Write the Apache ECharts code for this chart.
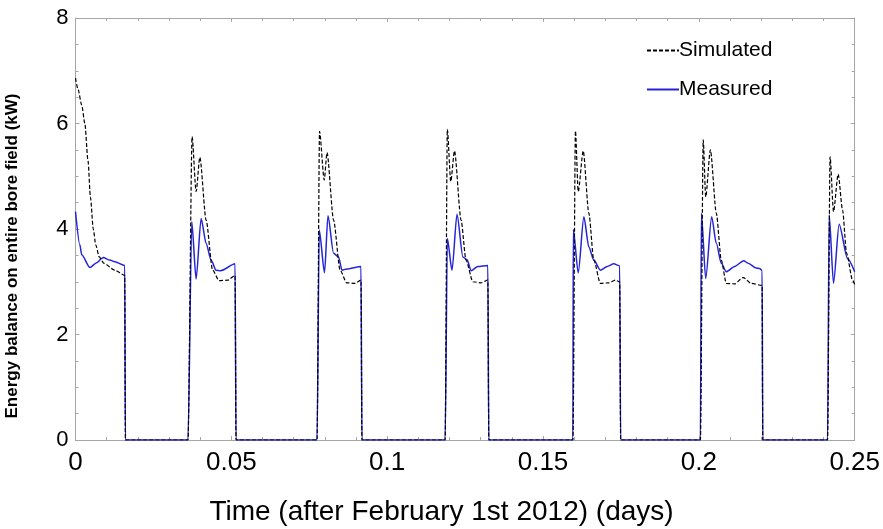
<!DOCTYPE html>
<html>
<head>
<meta charset="utf-8">
<script src="https://cdn.jsdelivr.net/npm/echarts@6/dist/echarts.min.js"></script>
<style>
  html, body { margin: 0; padding: 0; background: #fff; }
  #chart { width: 883px; height: 529px; }
</style>
</head>
<body>
<div id="chart"></div>
<script>
// time in days, values in kW
const simTime = [
  0, 0.0008, 0.002, 0.003, 0.004, 0.0048, 0.0057, 0.0065, 0.0076, 0.0091, 0.0126, 0.0158, 0.016,
  0.0361, 0.0374, 0.0387, 0.0399, 0.0419, 0.0440, 0.0461, 0.0488, 0.0512, 0.0515,
  0.0775, 0.0783, 0.0798, 0.0807, 0.0828, 0.0849, 0.0870, 0.0897, 0.0916, 0.0919,
  0.1186, 0.1193, 0.1204, 0.1216, 0.1237, 0.1253, 0.1275, 0.1301, 0.1323, 0.1326,
  0.1596, 0.1604, 0.1613, 0.1629, 0.1647, 0.1663, 0.1684, 0.1711, 0.1732, 0.1746, 0.1749,
  0.2005, 0.2014, 0.2022, 0.2037, 0.2056, 0.2072, 0.2088, 0.2115, 0.2142, 0.2168, 0.2203, 0.2205,
  0.2413, 0.2421, 0.2432, 0.2447, 0.2461, 0.2474, 0.2493, 0.25
];
const simValues = [
  6.86, 6.65, 6.35, 6.0, 5.3, 4.6, 4.0, 3.7, 3.47, 3.35, 3.22, 3.12, 0,
  0, 5.75, 4.71, 5.36, 4.17, 3.22, 3.02, 3.03, 3.12, 0,
  0, 5.85, 4.93, 5.45, 4.17, 3.22, 2.98, 2.97, 3.03, 0,
  0, 5.89, 4.90, 5.48, 4.17, 3.41, 3.0, 2.98, 3.03, 0,
  0, 5.86, 4.71, 5.48, 4.30, 3.41, 2.97, 2.98, 3.03, 3.0, 0,
  0, 5.69, 4.61, 5.50, 4.30, 3.41, 2.97, 2.96, 3.08, 2.97, 2.93, 0,
  0, 5.37, 4.33, 5.04, 4.36, 3.54, 3.03, 2.95
];

const measTime = [
  0, 0.0014, 0.002, 0.0046, 0.0068, 0.0084, 0.0089, 0.011, 0.0126, 0.0158, 0.016,
  0.0361, 0.0373, 0.0387, 0.0403, 0.0419, 0.0435, 0.0451, 0.0466, 0.0512, 0.0515,
  0.0775, 0.0782, 0.0799, 0.0810, 0.0828, 0.0844, 0.0855, 0.0870, 0.0916, 0.0919,
  0.1186, 0.1193, 0.1208, 0.1224, 0.1243, 0.1257, 0.1269, 0.1291, 0.1323, 0.1326,
  0.1596, 0.1597, 0.1613, 0.1631, 0.1647, 0.1663, 0.1684, 0.1706, 0.1727, 0.1746, 0.1749,
  0.2005, 0.2008, 0.2022, 0.2041, 0.2056, 0.2072, 0.2088, 0.2115, 0.2144, 0.2158, 0.2184, 0.2195, 0.2203, 0.2205,
  0.2413, 0.2418, 0.2432, 0.2450, 0.2477, 0.25
];
const measValues = [
  4.33, 3.7, 3.51, 3.27, 3.36, 3.44, 3.46, 3.41, 3.38, 3.31, 0,
  0, 4.14, 3.05, 4.20, 3.73, 3.41, 3.22, 3.21, 3.34, 0,
  0, 3.98, 3.17, 4.25, 3.54, 3.47, 3.22, 3.24, 3.29, 0,
  0, 3.82, 3.22, 4.28, 3.47, 3.41, 3.21, 3.29, 3.31, 0,
  0, 3.99, 3.17, 4.23, 3.66, 3.41, 3.22, 3.29, 3.34, 3.30, 0,
  0, 4.30, 3.06, 4.23, 3.73, 3.35, 3.19, 3.29, 3.40, 3.35, 3.26, 3.25, 3.21, 0,
  0, 4.27, 2.97, 4.09, 3.44, 3.19
];

const xTicks = [0, 0.05, 0.1, 0.15, 0.2, 0.25];
const yTicks = [0, 2, 4, 6, 8];

const simData = simTime.map((t, i) => [t, simValues[i]]);
const measData = measTime.map((t, i) => [t, measValues[i]]);

const axisGrey = '#a6a6a6';
const narrow = '"Liberation Sans Narrow", "Liberation Sans", Arial, sans-serif';

const baseX = {
  type: 'value',
  min: xTicks[0], max: xTicks[xTicks.length - 1], interval: 0.05,
  axisLine: { show: true, onZero: false, lineStyle: { color: axisGrey } },
  axisTick: { show: true, inside: true, length: 4, lineStyle: { color: axisGrey } },
  minorTick: { show: true, splitNumber: 5, length: 3, lineStyle: { color: axisGrey } },
  splitLine: { show: false }
};
const baseY = {
  type: 'value',
  min: yTicks[0], max: yTicks[yTicks.length - 1], interval: 2,
  axisLine: { show: true, onZero: false, lineStyle: { color: axisGrey } },
  axisTick: { show: true, inside: true, length: 4, lineStyle: { color: axisGrey } },
  minorTick: { show: true, splitNumber: 4, length: 3, lineStyle: { color: axisGrey } },
  splitLine: { show: false }
};

const option = {
  backgroundColor: '#fff',
  animation: false,
  grid: { left: 75.5, right: 24, top: 18, bottom: 89 },
  legend: {
    orient: 'vertical',
    left: 641, top: 35,
    itemWidth: 32, itemHeight: 14, itemGap: 18,
    itemStyle: { opacity: 0 },
    textStyle: { fontFamily: 'Liberation Sans, Arial, sans-serif', fontSize: 21, color: '#000', padding: [0, 0, 0, -5] },
    data: ['Simulated', 'Measured']
  },
  xAxis: [
    Object.assign({}, baseX, {
      position: 'bottom',
      axisLabel: {
        color: '#000', fontFamily: narrow, fontSize: 26, margin: 10,
        formatter: v => xTicks.includes(+v.toFixed(2)) ? String(+v.toFixed(2)) : ''
      }
    }),
    Object.assign({}, baseX, { position: 'top', axisLabel: { show: false } })
  ],
  yAxis: [
    Object.assign({}, baseY, {
      position: 'left',
      axisLabel: { color: '#000', fontFamily: 'Liberation Sans, Arial, sans-serif', fontSize: 22, margin: 7 }
    }),
    Object.assign({}, baseY, { position: 'right', axisLabel: { show: false } })
  ],
  graphic: [
    {
      type: 'text', left: 'center', top: 498,
      style: { text: 'Time (after February 1st 2012) (days)', font: '28px ' + narrow, fill: '#000' }
    },
    {
      type: 'text', x: 12, y: 256, rotation: Math.PI / 2,
      style: {
        text: 'Energy balance on entire bore field (kW)',
        font: 'bold 17px "Liberation Sans", Arial, sans-serif',
        fill: '#000', align: 'center', verticalAlign: 'middle'
      }
    }
  ],
  series: [
    {
      name: 'Simulated', type: 'line', data: simData, symbol: 'none',
      smooth: 0.25, smoothMonotone: 'x',
      lineStyle: { color: '#000', width: 1.2, type: [4, 2] },
      itemStyle: { color: '#000' }, z: 3
    },
    {
      name: 'Measured', type: 'line', data: measData, symbol: 'none',
      smooth: 0.25, smoothMonotone: 'x',
      lineStyle: { color: '#2424d8', width: 1.5 },
      itemStyle: { color: '#2424d8' }, z: 2
    }
  ]
};

const chart = echarts.init(document.getElementById('chart'), null, { renderer: 'canvas' });
chart.setOption(option);
</script>
</body>
</html>
